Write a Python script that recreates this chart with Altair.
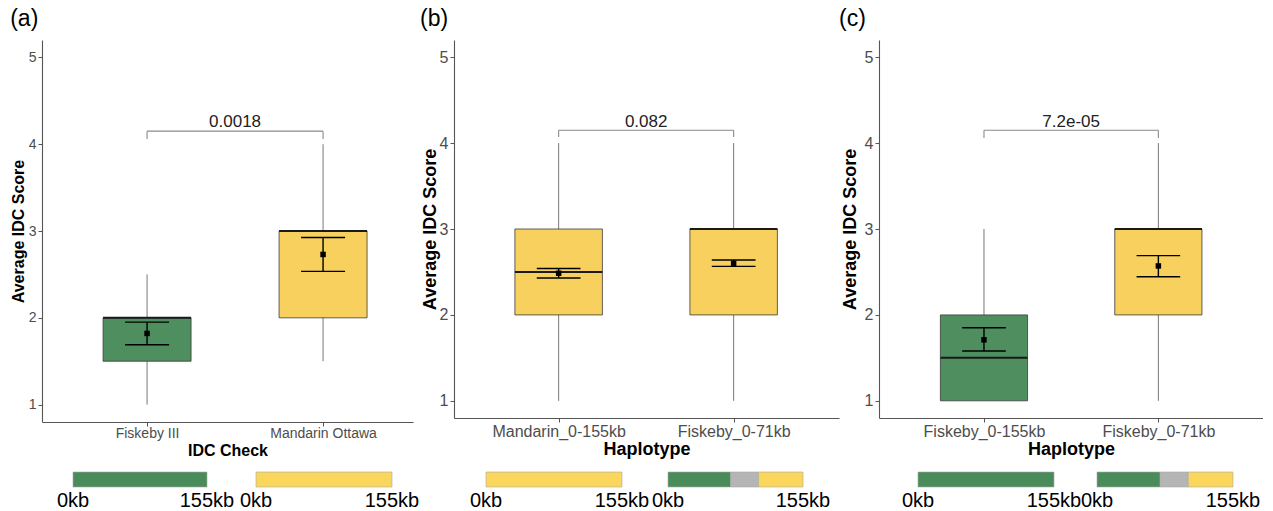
import altair as alt
import pandas as pd

# ---------------- data ----------------
panel_tags = ["(a)", "(b)", "(c)"]
x_titles = ["IDC Check", "Haplotype", "Haplotype"]
categories = [
    ["Fiskeby III", "Mandarin Ottawa"],
    ["Mandarin_0-155kb", "Fiskeby_0-71kb"],
    ["Fiskeby_0-155kb", "Fiskeby_0-71kb"],
]
box_groups = [["Fiskeby", "Mandarin"], ["Mandarin", "Mandarin"], ["Fiskeby", "Mandarin"]]
whisker_low = [[1.0, 1.5], [1.0, 1.0], [1.0, 1.0]]
q1_values = [[1.5, 2.0], [2.0, 2.0], [1.0, 2.0]]
median_values = [[2.0, 3.0], [2.5, 3.0], [1.5, 3.0]]
q3_values = [[2.0, 3.0], [3.0, 3.0], [2.0, 3.0]]
whisker_high = [[2.5, 4.0], [4.0, 4.0], [3.0, 4.0]]
mean_values = [[1.82, 2.73], [2.485, 2.60], [1.71, 2.57]]
se_low = [[1.69, 2.535], [2.43, 2.565], [1.58, 2.445]]
se_high = [[1.95, 2.925], [2.54, 2.64], [1.85, 2.69]]
p_values = ["0.0018", "0.082", "7.2e-05"]
bracket_top = [4.15, 4.15, 4.15]
bracket_leg = [4.06, 4.07, 4.06]
p_label_y = [4.25, 4.25, 4.25]

genome_tick_kb = [0, 155]
haplotype_segments = [
    [[(0, 155, "Fiskeby")], [(0, 155, "Mandarin")]],
    [[(0, 155, "Mandarin")], [(0, 72, "Fiskeby"), (72, 104, "Other"), (104, 155, "Mandarin")]],
    [[(0, 155, "Fiskeby")], [(0, 72, "Fiskeby"), (72, 104, "Other"), (104, 155, "Mandarin")]],
]
y_ticks = [1, 2, 3, 4, 5]

# ---------------- layout / style ----------------
panel_widths = [371, 385, 384]
panel_heights = [382, 378, 378]
x_domains = [[0.403, 2.511], [0.402, 2.602], [0.398, 2.6]]
tick_font = [14, 16, 16]
title_font = [16, 18, 18]
x_label_pad = [0, 1, 1]
x_title_pad = [2, 1, 1]
y_title_pad = [2, 0, 5]
title_dx = [0, -1, -2]
strip_ranges = [[[31, 165], [214, 350]], [[32, 168], [214, 349]], [[39, 175], [218, 354]]]
strip_bar_top, strip_bar_bottom, strip_text_base = 432, 447, 467

box_colors = alt.Scale(domain=["Fiskeby", "Other", "Mandarin"],
                       range=["#4F8E5E", "#B5B5B5", "#F7D05E"])
strip_colors = alt.Scale(domain=["Fiskeby", "Other", "Mandarin"],
                         range=["#4A8B5A", "#B5B5B5", "#FBD65C"])
FONT = "Liberation Sans"
AXIS_COLOR = "#555555"


def make_panel(i):
    cats = categories[i]
    df = pd.DataFrame({
        "cat": cats,
        "idx": [k + 1 for k in range(len(cats))],
        "group": box_groups[i],
        "lower": whisker_low[i],
        "q1": q1_values[i],
        "median": median_values[i],
        "q3": q3_values[i],
        "upper": whisker_high[i],
        "mean": mean_values[i],
        "se_lo": se_low[i],
        "se_hi": se_high[i],
    })
    label_expr = "[" + ",".join("'" + c + "'" for c in cats) + "][datum.value - 1]"
    xscale = alt.Scale(domain=x_domains[i], nice=False, zero=False)
    xaxis = alt.Axis(title=x_titles[i], values=[1, 2], labelExpr=label_expr, grid=False,
                     domainColor=AXIS_COLOR, tickColor=AXIS_COLOR, tickSize=4,
                     labelFontSize=tick_font[i], labelColor="#4D4D4D", labelFont=FONT,
                     labelPadding=x_label_pad[i],
                     titleFontSize=title_font[i], titleFont=FONT, titleFontWeight="bold",
                     titleColor="black", titlePadding=x_title_pad[i], domainWidth=1.1)
    yscale = alt.Scale(domain=[0.8, 5.2], nice=False, zero=False)
    yaxis = alt.Axis(title="Average IDC Score", values=y_ticks, grid=False,
                     domainColor=AXIS_COLOR, tickColor=AXIS_COLOR, tickSize=4,
                     labelFontSize=tick_font[i], labelColor="#4D4D4D", labelFont=FONT,
                     labelPadding=2,
                     titleFontSize=title_font[i], titleFont=FONT, titleFontWeight="bold",
                     titleColor="black", titlePadding=y_title_pad[i], domainWidth=1.1)

    def X(f):
        return alt.X(f, type="quantitative", scale=xscale, axis=xaxis)

    def Y(f):
        return alt.Y(f, type="quantitative", scale=yscale, axis=yaxis)

    base = alt.Chart(df).transform_calculate(
        xl="datum.idx - 0.25", xr="datum.idx + 0.25",
        cl="datum.idx - 0.125", cr="datum.idx + 0.125")

    whisk = base.mark_rule(color="#777777", strokeWidth=1).encode(
        x=X("idx"), y=Y("lower"), y2="upper")
    box = base.mark_bar(stroke="#3a3a3a", strokeWidth=0.8).encode(
        x=X("xl"), x2="xr", y=Y("q1"), y2="q3",
        color=alt.Color("group:N", scale=box_colors, legend=None))
    med = base.mark_rule(color="#1a1a1a", strokeWidth=2).encode(
        x=X("xl"), x2="xr", y=Y("median"))
    err = base.mark_rule(color="black", strokeWidth=1.4).encode(
        x=X("idx"), y=Y("se_lo"), y2="se_hi")
    cap_lo = base.mark_rule(color="black", strokeWidth=1.4).encode(
        x=X("cl"), x2="cr", y=Y("se_lo"))
    cap_hi = base.mark_rule(color="black", strokeWidth=1.4).encode(
        x=X("cl"), x2="cr", y=Y("se_hi"))
    pts = base.mark_square(color="black", size=30, opacity=1).encode(
        x=X("idx"), y=Y("mean"))

    br = pd.DataFrame({"x1": [1], "x2": [2], "top": [bracket_top[i]],
                       "leg": [bracket_leg[i]], "ly": [p_label_y[i]], "p": [p_values[i]]})
    legs = pd.DataFrame({"idx": [1, 2], "top": [bracket_top[i]] * 2, "leg": [bracket_leg[i]] * 2})
    br_h = alt.Chart(br).mark_rule(color="#8a8a8a", strokeWidth=1.1).encode(
        x=X("x1"), x2="x2", y=Y("top"))
    br_v = alt.Chart(legs).mark_rule(color="#8a8a8a", strokeWidth=1.1).encode(
        x=X("idx"), y=Y("leg"), y2="top")
    p_txt = alt.Chart(br).transform_calculate(xm="(datum.x1 + datum.x2) / 2").mark_text(
        font=FONT, fontSize=17, color="#222222", baseline="middle").encode(
        x=X("xm"), y=Y("ly"), text="p:N")

    box_layer = alt.layer(whisk, box, med, err, cap_lo, cap_hi, pts, br_h, br_v, p_txt)

    strips = []
    for b, segs in enumerate(haplotype_segments[i]):
        sdf = pd.DataFrame(segs, columns=["start", "end", "group"])
        tdf = pd.DataFrame({"kb": genome_tick_kb,
                            "label": [f"{k}kb" for k in genome_tick_kb],
                            "shift": [3, -5]})
        sx = alt.Scale(domain=[genome_tick_kb[0], genome_tick_kb[-1]], range=strip_ranges[i][b])
        bar = alt.Chart(sdf).mark_bar(stroke="#A8A8A8", strokeWidth=0.6).encode(
            x=alt.X("start:Q", scale=sx, axis=None), x2="end",
            y=alt.value(strip_bar_top), y2=alt.value(strip_bar_bottom),
            color=alt.Color("group:N", scale=strip_colors, legend=None))
        txt = alt.Chart(tdf).mark_text(font=FONT, fontSize=20, color="black",
                                       baseline="alphabetic").encode(
            x=alt.X("kb:Q", scale=sx, axis=None), y=alt.value(strip_text_base),
            xOffset=alt.XOffset("shift:Q", scale=None), text="label:N")
        strips.append(alt.layer(bar, txt))

    return alt.layer(box_layer, *strips).resolve_scale(
        x="independent", color="independent").properties(
        width=panel_widths[i], height=panel_heights[i],
        title=alt.TitleParams(panel_tags[i], anchor="start", frame="bounds", fontSize=23,
                              font=FONT, fontWeight="normal", color="black", offset=9,
                              dx=title_dx[i]))


chart = alt.hconcat(*[make_panel(i) for i in range(3)], spacing=0).properties(
    padding={"left": 10, "top": 8, "right": 0, "bottom": 0}
).configure_view(stroke=None)

chart.save("out.html", embed_options={"renderer": "svg", "actions": False})
